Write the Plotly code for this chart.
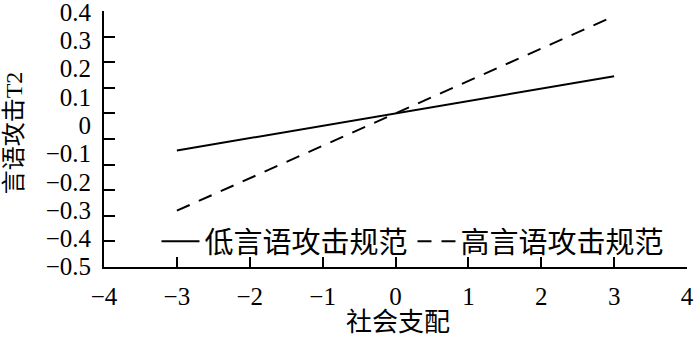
import plotly.graph_objects as go

x_vals = [-3, 3]
low_norm = [-0.145, 0.145]
high_norm = [-0.38, 0.38]
series_names = ["低言语攻击规范", "高言语攻击规范"]
x_ticks = [-4, -3, -2, -1, 0, 1, 2, 3, 4]
x_tick_text = ["\u22124", "\u22123", "\u22122", "\u22121", "0", "1", "2", "3", "4"]
y_label_vals = [0.4, 0.3, 0.2, 0.1, 0, -0.1, -0.2, -0.3, -0.4, -0.5]
y_label_text = ["0.4", "0.3", "0.2", "0.1", "0", "\u22120.1", "\u22120.2", "\u22120.3", "\u22120.4", "\u22120.5"]
x_title = "社会支配"
y_title = "言语攻击T2"

FONT = "Liberation Serif, Noto Sans CJK SC, serif"

fig = go.Figure()
fig.add_trace(go.Scatter(x=x_vals, y=low_norm, mode="lines", name=series_names[0],
                         line=dict(color="black", width=2)))
fig.add_trace(go.Scatter(x=x_vals, y=high_norm, mode="lines", name=series_names[1],
                         line=dict(color="black", width=2, dash="14px,10px")))
# invisible trace to activate the label axis
fig.add_trace(go.Scatter(x=[None], y=[None], yaxis="y2", showlegend=False, hoverinfo="skip"))

fig.update_layout(
    width=700, height=339,
    margin=dict(l=104, r=13, t=11, b=72),
    paper_bgcolor="white", plot_bgcolor="white",
    font=dict(family=FONT, size=25, color="black"),
    showlegend=True,
    legend=dict(orientation="h", x=0.09, y=0.10, xanchor="left", yanchor="middle",
                bgcolor="rgba(0,0,0,0)", font=dict(size=29, family=FONT),
                itemwidth=38, tracegroupgap=0),
    xaxis=dict(range=[-4, 4], tickvals=x_ticks, ticktext=x_tick_text,
               ticks="inside", ticklen=10, tickwidth=1.5, tickcolor="black",
               showline=True, linecolor="black", linewidth=2,
               showgrid=False, zeroline=False, automargin=False,
               ticklabelstandoff=6, ticklabeloverflow="allow",
               tickfont=dict(size=25, family=FONT)),
    yaxis=dict(range=[-0.6, 0.4], dtick=0.1, tick0=0, ticks="inside", ticklen=11,
               tickwidth=1.5, tickcolor="black", showticklabels=False,
               showline=True, linecolor="black", linewidth=2,
               showgrid=False, zeroline=False, automargin=False),
    yaxis2=dict(overlaying="y", side="left", range=[-0.501, 0.404],
                tickvals=y_label_vals, ticktext=y_label_text, ticks="",
                showline=False, showgrid=False, zeroline=False, automargin=False,
                ticklabelstandoff=12, ticklabeloverflow="allow",
                tickfont=dict(size=25, family=FONT)),
    annotations=[
        dict(text=x_title, xref="paper", yref="paper", x=0.504, y=-0.218,
             xanchor="center", yanchor="middle", showarrow=False,
             font=dict(size=26, family=FONT)),
        dict(text=y_title, xref="paper", yref="paper", x=-0.154, y=0.523,
             xanchor="center", yanchor="middle", textangle=-90, showarrow=False,
             font=dict(size=24, family=FONT)),
    ],
)

fig.write_html("out.html", config={"displayModeBar": False},
               post_script="document.body.style.margin='0';document.body.style.overflow='hidden';")
